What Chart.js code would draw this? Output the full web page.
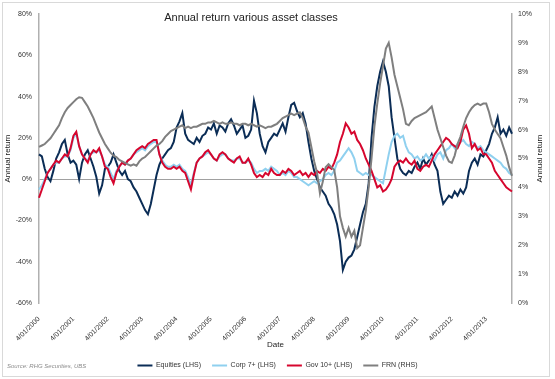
<!DOCTYPE html>
<html><head><meta charset="utf-8">
<script src="https://cdn.jsdelivr.net/npm/chart.js@4.4.1/dist/chart.umd.min.js"></script>
<style>html,body{margin:0;padding:0;background:#fff;}canvas{display:block;}</style>
</head><body>
<canvas id="c" width="555" height="379"></canvas>
<script>
const FONT = "'Liberation Sans', Arial, sans-serif";
const titleText = 'Annual return various asset classes';
const axisTitle = 'Annual return';
const sourceText = 'Source: RHG Securities, UBS';
const tickLabels = ['4/01/2000','4/01/2001','4/01/2002','4/01/2003','4/01/2004','4/01/2005','4/01/2006',
  '4/01/2007','4/01/2008','4/01/2009','4/01/2010','4/01/2011','4/01/2012','4/01/2013'];
const seriesNames = ['Equities (LHS)','Corp 7+ (LHS)','Gov 10+ (LHS)','FRN (RHS)'];

// monthly categories Jan 2000 .. Oct 2013
const months = [];
for (let y = 2000; y <= 2013; y++) for (let m = 1; m <= 12; m++) {
  if (y === 2013 && m > 10) break;
  months.push(y + '-' + String(m).padStart(2, '0'));
}

const equities = [
  12, 11, 5, 1, -1, 4, 10, 13, 17, 19, 12, 8,
  9, 7, 0, 8, 12, 14, 10, 6, 1, -7, -3, 5,
  6, 8, 12, 8, 4, 2, 4, 0, -1, -4, -6, -9,
  -12, -15, -17, -12, -5, 2, 7, 10, 12, 14, 15, 18,
  25, 28, 32, 22, 19, 18, 17, 20, 18, 21, 22, 25,
  24, 27, 22, 26, 25, 23, 27, 29, 26, 22, 24, 26,
  20, 21, 24, 38, 32, 22, 16, 13, 18, 20, 22, 21,
  24, 27, 23, 30, 36, 37, 33, 30, 32, 27, 18, 10,
  4, 0, -4, -6, -8, -12, -14, -17, -22, -30, -44, -40,
  -38, -37, -34, -28, -22, -16, -12, -2, 20, 35, 45, 52,
  57, 52, 45, 30, 20, 10, 5, 3, 2, 4, 3, 6,
  8, 5, 10, 7, 9, 12, 7, 4, -6, -12, -10, -8,
  -9, -6, -8, -5, -7, -4, 4, 8, 10, 7, 12, 11,
  14, 17, 22, 25, 30, 22, 24, 21, 25, 22
];
const corp7 = [
  -5, -3, 0, 3, 5, 7, 8, 8, 10, 11, 11, 14,
  20, 22, 16, 12, 10, 9, 12, 13, 13, 14, 11, 7,
  6, 3, 0, 4, 6, 8, 7, 9, 10, 12, 13, 14,
  15, 14, 16, 17, 18, 18, 12, 9, 7, 6, 6, 7,
  6, 7, 5, 4, 1, -3, 3, 8, 10, 11, 12, 13,
  12, 10, 9, 11, 12, 12, 10, 9, 9, 10, 10, 8,
  8, 9, 8, 5, 3, 4, 4, 5, 4, 6, 5, 4,
  2, 3, 2, 4, 3, 1, 1, 0, -1, -2, -3, -2,
  -1, -2, -1, 0, 2, 3, 2, 4, 8, 9, 11, 13,
  15, 13, 10, 4, 3, 2, 3, 2, 2, 1, 0, -1,
  -2, 5, 12, 18, 21, 22, 20, 21, 16, 13, 12, 10,
  11, 9, 10, 12, 10, 11, 9, 12, 13, 10, 14, 15,
  17, 15, 17, 18, 19, 17, 16, 18, 17, 15, 16, 14,
  13, 12, 11, 10, 9, 8, 6, 5, 3, 2
];
const gov10 = [
  -9, -5, -1, 3, 5, 7, 9, 8, 10, 12, 11, 15,
  21, 23, 16, 12, 10, 8, 12, 14, 13, 15, 11, 6,
  5, 1, -2, 3, 6, 8, 7, 9, 10, 12, 14, 15,
  16, 15, 17, 18, 19, 19, 12, 8, 6, 5, 5, 6,
  5, 6, 4, 3, -1, -5, 2, 8, 10, 11, 13, 14,
  12, 10, 9, 12, 13, 12, 10, 9, 8, 10, 11, 8,
  8, 10, 7, 3, 1, 2, 1, 3, 2, 5, 3, 2,
  2, 4, 3, 5, 4, 2, 3, 4, 2, 3, 1, 3,
  2, 4, 3, 5, 4, 6, 5, 8, 12, 18, 22, 27,
  25, 22, 23, 19, 17, 14, 10, 7, 4, 0, -4, -3,
  -6, -5, -3, 0, 6, 8, 9, 8, 10, 8, 7, 9,
  5, 4, 6, 7, 6, 9, 12, 14, 16, 18, 20, 19,
  17, 16, 15, 18, 24, 26, 22, 15, 17, 14, 15, 12,
  12, 10, 8, 4, 2, 0, -2, -4, -5, -6
];
const frn = [
  5.4, 5.45, 5.5, 5.6, 5.7, 5.85, 6.0, 6.15, 6.4, 6.6, 6.75, 6.85,
  6.95, 7.05, 7.12, 7.1, 6.95, 6.8, 6.6, 6.4, 6.15, 5.9, 5.7, 5.5,
  5.35, 5.2, 5.1, 5.05, 4.95, 4.9, 4.85, 4.8, 4.75, 4.8, 4.75, 4.9,
  5.0, 5.05, 5.15, 5.25, 5.35, 5.45, 5.5, 5.6, 5.75, 5.85, 5.95, 6.0,
  6.05, 6.1, 6.15, 6.05, 6.1, 6.05, 6.1, 6.1, 6.15, 6.2, 6.2, 6.25,
  6.25, 6.3, 6.25, 6.2, 6.25, 6.2, 6.2, 6.25, 6.2, 6.2, 6.15, 6.2,
  6.2, 6.15, 6.2, 6.15, 6.1, 6.15, 6.1, 6.05, 6.1, 6.1, 6.15, 6.2,
  6.3, 6.4, 6.45, 6.5, 6.55, 6.5, 6.55, 6.6, 6.4, 6.1, 5.9, 5.4,
  4.9, 4.5, 3.8, 4.2, 4.7, 4.8, 4.7, 4.6, 4.0, 3.0, 2.6, 2.3,
  2.6, 2.3, 2.5, 1.9, 2.0, 2.6, 3.2, 4.0, 5.0, 6.1, 6.9, 7.6,
  8.2, 8.8, 9.0, 8.5, 7.9, 7.5, 7.1, 6.7, 6.2, 6.15, 6.3, 6.4,
  6.45, 6.5, 6.55, 6.6, 6.7, 6.8, 6.4, 6.0, 5.7, 5.4, 5.1, 4.9,
  4.85, 5.1, 5.5, 5.75, 6.1, 6.4, 6.6, 6.75, 6.85, 6.9, 6.85, 6.9,
  6.9, 6.6, 6.2, 6.0, 5.85, 5.7, 5.4, 5.1, 4.7, 4.4
];

const colors = ['#0b2d56', '#8fd0ef', '#d6062e', '#7f7f7f'];
const seriesData = [equities, corp7, gov10, frn];
const axisIds = ['y', 'y', 'y', 'y1'];
const drawOrder = [4, 3, 2, 1];

const decor = {
  id: 'decor',
  beforeDraw(chart) {
    const ctx = chart.ctx;
    ctx.save();
    ctx.fillStyle = '#fff';
    ctx.fillRect(0, 0, chart.width, chart.height);
    ctx.strokeStyle = '#d9d9d9';
    ctx.lineWidth = 1;
    ctx.strokeRect(2.5, 2.5, 547, 374);
    ctx.restore();
  },
  afterDraw(chart) {
    const ctx = chart.ctx, a = chart.chartArea;
    ctx.save();
    ctx.fillStyle = '#222';
    ctx.textAlign = 'center';
    ctx.textBaseline = 'middle';
    ctx.font = '11px ' + FONT;
    ctx.fillText(titleText, 251, 18);
    ctx.font = '8px ' + FONT;
    ctx.translate(540, (a.top + a.bottom) / 2);
    ctx.rotate(-Math.PI / 2);
    ctx.fillText(axisTitle, 0, 0);
    ctx.restore();
    ctx.save();
    ctx.font = 'italic 6px ' + FONT;
    ctx.fillStyle = '#8c8c8c';
    ctx.textAlign = 'left';
    ctx.textBaseline = 'middle';
    ctx.fillText(sourceText, 7, 366);
    ctx.restore();
  }
};

new Chart(document.getElementById('c'), {
  type: 'line',
  data: {
    labels: months,
    datasets: seriesNames.map((n, i) => ({
      label: n,
      data: seriesData[i],
      yAxisID: axisIds[i],
      order: drawOrder[i],
      borderColor: colors[i],
      backgroundColor: colors[i],
      borderWidth: 2,
      pointRadius: 0,
      tension: 0
    }))
  },
  options: {
    responsive: false,
    animation: false,
    devicePixelRatio: 1,
    layout: { padding: { top: 14, left: 0, right: 0, bottom: 0 } },
    plugins: {
      title: { display: false },
      tooltip: { enabled: false },
      legend: {
        position: 'bottom',
        labels: {
          usePointStyle: true,
          pointStyle: 'line',
          pointStyleWidth: 15,
          padding: 11,
          color: '#333',
          font: { family: FONT, size: 7 },
          sort: (a, b) => a.datasetIndex - b.datasetIndex
        }
      }
    },
    scales: {
      x: {
        type: 'category',
        offset: false,
        grid: { display: false },
        border: { display: false },
        ticks: {
          autoSkip: false,
          maxRotation: 45,
          minRotation: 45,
          padding: 4,
          color: '#333',
          font: { family: FONT, size: 7 },
          callback: function (val, idx) { return idx % 12 === 0 ? tickLabels[idx / 12] : null; }
        },
        title: { display: true, text: 'Date', color: '#222', font: { family: FONT, size: 8 }, padding: { top: 0, bottom: 1 } },
        afterFit(s) { s.height = 48; }
      },
      y: {
        position: 'left',
        min: -60, max: 80,
        ticks: { stepSize: 20, padding: 7, color: '#333', font: { family: FONT, size: 7 }, callback: v => v + '%' },
        grid: { drawTicks: false, lineWidth: 1, color: c => (c.tick && c.tick.value === 0) ? '#a0a0a0' : 'rgba(0,0,0,0)' },
        border: { color: '#b0b0b0', width: 1.5 },
        title: { display: true, text: axisTitle, color: '#222', font: { family: FONT, size: 8 }, padding: { top: 3, bottom: 0 } },
        afterFit(s) { s.width = 39; }
      },
      y1: {
        position: 'right',
        min: 0, max: 10,
        ticks: { stepSize: 1, padding: 6, color: '#333', font: { family: FONT, size: 7 }, callback: v => v + '%' },
        grid: { drawOnChartArea: false, drawTicks: false },
        border: { color: '#b0b0b0', width: 1.5 },
        afterFit(s) { s.width = 43; }
      }
    }
  },
  plugins: [decor]
});
</script>
</body></html>
